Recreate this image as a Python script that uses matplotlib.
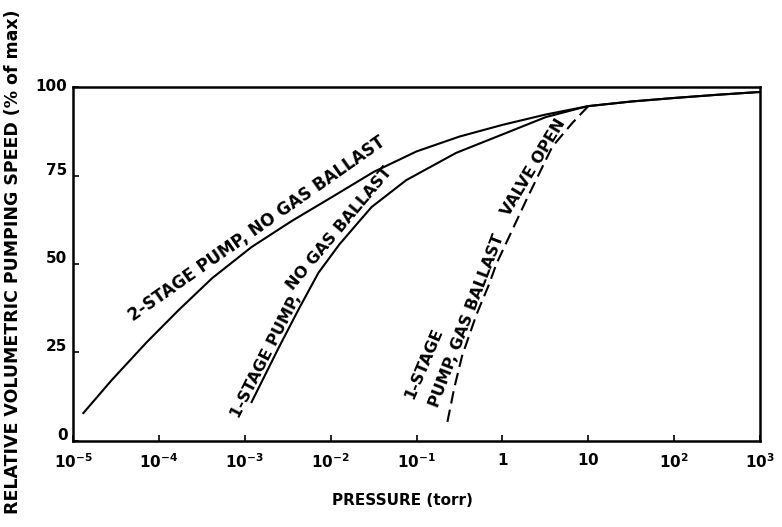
import matplotlib
matplotlib.use("Agg")
import matplotlib.pyplot as plt
from matplotlib.ticker import FixedLocator, FixedFormatter, NullLocator
from matplotlib.transforms import ScaledTranslation

# pressure (torr) vs relative speed (% of max)
two_stage_p = [1.32e-5, 2.82e-5, 7.08e-5, 1.70e-4, 4.17e-4, 1.20e-3, 3.55e-3, 1.05e-2,
               3.16e-2, 0.1, 0.316, 1.0, 3.16, 10, 31.6, 100, 316, 1000]
two_stage_s = [7.9, 17.2, 27.7, 37.0, 46.0, 54.8, 62.2, 69.0,
               76.0, 81.8, 86.0, 89.3, 92.2, 94.6, 95.9, 96.9, 97.8, 98.6]

one_stage_p = [1.2e-3, 2.5e-3, 4.3e-3, 7.2e-3, 1.26e-2, 2.14e-2, 3.0e-2, 7.6e-2,
               0.29, 1.1, 3.2, 7.9, 10, 31.6, 100, 316, 1000]
one_stage_s = [11.0, 26.5, 37.5, 47.5, 55.5, 62.0, 66.1, 73.7,
               81.4, 87.0, 91.5, 94.0, 94.6, 95.9, 96.9, 97.8, 98.6]

ballast_p = [0.229, 0.275, 0.339, 0.495, 0.70, 0.85, 1.9, 3.8, 6.5, 10]
ballast_s = [5.4, 15.0, 24.0, 35.5, 44.3, 50.0, 68.1, 83.1, 89.8, 94.6]

x_ticks = [1e-5, 1e-4, 1e-3, 1e-2, 1e-1, 1, 10, 100, 1000]
x_labels = [r"$\mathbf{10^{-5}}$", r"$\mathbf{10^{-4}}$", r"$\mathbf{10^{-3}}$",
            r"$\mathbf{10^{-2}}$", r"$\mathbf{10^{-1}}$", r"$\mathbf{1}$",
            r"$\mathbf{10}$", r"$\mathbf{10^{2}}$", r"$\mathbf{10^{3}}$"]
y_ticks = [0, 25, 50, 75, 100]

plt.rcParams["font.family"] = ["DejaVu Sans"]
plt.rcParams["mathtext.fontset"] = "dejavusans"

fig = plt.figure(figsize=(7.82, 5.27), dpi=100)
ax = fig.add_axes([0.0934, 0.1632, 0.8785, 0.6717])

ax.plot(two_stage_p, two_stage_s, color="black", lw=1.5)
ax.plot(one_stage_p, one_stage_s, color="black", lw=1.5)
ax.plot(ballast_p, ballast_s, color="black", lw=1.5, linestyle=(0, (6, 3)))

ax.set_xscale("log")
ax.set_xlim(1e-5, 1e3)
ax.set_ylim(0, 100)

ax.xaxis.set_major_locator(FixedLocator(x_ticks))
ax.xaxis.set_major_formatter(FixedFormatter(x_labels))
ax.xaxis.set_minor_locator(NullLocator())
ax.yaxis.set_major_locator(FixedLocator(y_ticks))
ax.tick_params(axis="both", direction="in", length=4, width=1.2, labelsize=11)
ax.tick_params(axis="x", pad=8)
ax.tick_params(axis="y", pad=4)
for lab in ax.get_yticklabels():
    lab.set_fontweight("bold")

for sp in ax.spines.values():
    sp.set_linewidth(1.8)

# y tick labels sit a little above their ticks in the original
for lab, t in zip(ax.get_yticklabels(), y_ticks):
    dy = 2 if t == 100 else 7
    lab.set_transform(lab.get_transform() + ScaledTranslation(0, dy / 100, fig.dpi_scale_trans))

txt = dict(fontsize=11.5, fontweight="bold", rotation_mode="anchor", ha="center", va="bottom")
ax.text(10 ** -2.80, 57.8, "2-STAGE PUMP, NO GAS BALLAST", rotation=35,
        **{**txt, "fontsize": 12})
ax.text(10 ** -2.67, 23.0, "1-STAGE PUMP,", rotation=63, **txt)
ax.text(10 ** -1.83, 58.5, "NO GAS BALLAST", rotation=50, **txt)
ax.text(10 ** -0.33, 33.3, "PUMP, GAS BALLAST", rotation=69, **txt)
ax.text(10 ** 0.44, 76.3, "VALVE OPEN", rotation=59, **txt)
ax.text(10 ** -0.92, 22.0, "1-STAGE", rotation=67, fontsize=11.5, fontweight="bold",
        rotation_mode="anchor", ha="center", va="center")

fig.text(0.515, 0.051, "PRESSURE (torr)", ha="center", va="center",
         fontsize=11, fontweight="bold")
fig.text(0.016, 0.503, "RELATIVE VOLUMETRIC PUMPING SPEED (% of max)", rotation=90,
         ha="center", va="center", fontsize=12.5, fontweight="bold")

fig.savefig("out.png", dpi=100)
